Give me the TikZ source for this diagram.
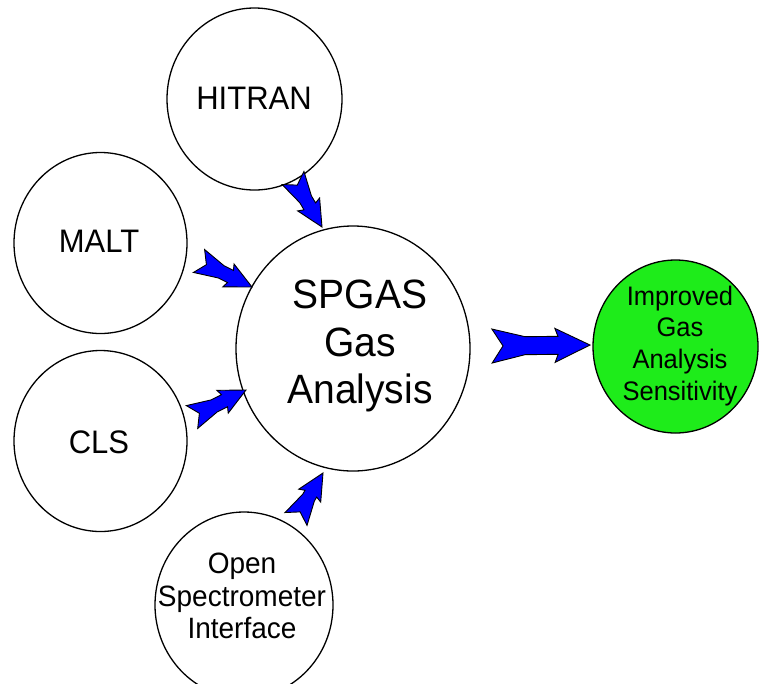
\documentclass[tikz,border=0pt]{standalone}
\usepackage{fontspec}
\setmainfont{Liberation Sans}
\usetikzlibrary{calc,shapes.geometric}
\definecolor{arrowblue}{RGB}{0,0,255}
\definecolor{goodgreen}{RGB}{30,236,26}
\newcommand\tallt[1]{\scalebox{1}[1.05]{#1}}
\tikzset{
  bubble/.style={ellipse, draw=black, line width=1.3pt, inner sep=0pt},
  lbl/.style={anchor=base, inner sep=0pt, text=black},
  fatarrowstyle/.style={fill=arrowblue, draw=black, line width=0.9pt, line join=miter},
}
\newcommand\fatarrow[3]{%
  \pgfmathsetmacro\fahw{17*#3}%
  \pgfmathsetmacro\fasw{9*#3}%
  \pgfmathsetmacro\fant{11*#3}%
  \pgfmathsetmacro\fafl{33*#3}%
  \pgfmathsetmacro\fahb{35*#3}%
  \pgfmathsetmacro\fahj{32*#3}%
  \draw[fatarrowstyle]
       ($(#1)!\fahw pt!90:(#2)$)
    -- ($($(#1)!\fafl pt!(#2)$)!\fasw pt!90:(#2)$)
    -- ($($(#2)!\fahj pt!(#1)$)!\fasw pt!-90:(#1)$)
    -- ($($(#2)!\fahb pt!(#1)$)!\fahw pt!-90:(#1)$)
    -- (#2)
    -- ($($(#2)!\fahb pt!(#1)$)!\fahw pt!90:(#1)$)
    -- ($($(#2)!\fahj pt!(#1)$)!\fasw pt!90:(#1)$)
    -- ($($(#1)!\fafl pt!(#2)$)!\fasw pt!-90:(#2)$)
    -- ($(#1)!\fahw pt!-90:(#2)$)
    -- ($(#1)!\fant pt!(#2)$)
    -- cycle;
}
\begin{document}
\begin{tikzpicture}[x=1pt,y=-1pt]
\useasboundingbox (0,0) rectangle (759,683);
\fill[white] (0,0) rectangle (759,683);

% bubbles
\node[bubble, minimum width=175pt, minimum height=182pt] (hitran) at (254.5,99) {};
\node[bubble, minimum width=173pt, minimum height=181pt] (malt) at (100.5,243) {};
\node[bubble, minimum width=173pt, minimum height=181pt] (cls) at (100.5,441) {};
\node[bubble, minimum width=234pt, minimum height=245pt] (spgas) at (353,348.5) {};
\node[bubble, minimum width=178pt, minimum height=186pt] (osi) at (244,605) {};
\node[bubble, fill=goodgreen, minimum width=165pt, minimum height=173pt] (improved) at (675.5,346.5) {};

% labels
\node[lbl, font=\fontsize{31}{37}\selectfont] (hitran-t) at (254,109) {\tallt{HITRAN}};
\node[lbl, font=\fontsize{31}{37}\selectfont] (malt-t) at (99,252) {\tallt{MALT}};
\node[lbl, font=\fontsize{31}{37}\selectfont] (cls-t) at (99,453) {\tallt{CLS}};

\node[lbl, font=\fontsize{39}{47}\selectfont] (spgas-t1) at (360,308) {\tallt{SPGAS}};
\node[lbl, font=\fontsize{39}{47}\selectfont] (spgas-t2) at (360,356) {\tallt{Gas}};
\node[lbl, font=\fontsize{39}{47}\selectfont] (spgas-t3) at (360,403) {\tallt{Analysis}};

\node[lbl, font=\fontsize{28}{32}\selectfont] (osi-t1) at (242,573) {\tallt{Open}};
\node[lbl, font=\fontsize{28}{32}\selectfont] (osi-t2) at (242,606) {\tallt{Spectrometer}};
\node[lbl, font=\fontsize{28}{32}\selectfont] (osi-t3) at (242,638) {\tallt{Interface}};

\node[lbl, font=\fontsize{25.5}{31}\selectfont] (imp-t1) at (680,305) {\tallt{Improved}};
\node[lbl, font=\fontsize{25.5}{31}\selectfont] (imp-t2) at (680,336) {\tallt{Gas}};
\node[lbl, font=\fontsize{25.5}{31}\selectfont] (imp-t3) at (680,368) {\tallt{Analysis}};
\node[lbl, font=\fontsize{25.5}{31}\selectfont] (imp-t4) at (680,400) {\tallt{Sensitivity}};

% connector end points
\coordinate (hitran-out) at (293,178);
\coordinate (spgas-in-h) at (322,227);
\coordinate (malt-out) at (199,261);
\coordinate (spgas-in-m) at (252,287);
\coordinate (cls-out) at (192,417);
\coordinate (spgas-in-c) at (246,390);
\coordinate (osi-out) at (296,519);
\coordinate (spgas-in-o) at (323,473);
\coordinate (spgas-out) at (492,346);
\coordinate (improved-in) at (590,345);

% fat arrows
\fatarrow{hitran-out}{spgas-in-h}{0.75}
\fatarrow{malt-out}{spgas-in-m}{0.75}
\fatarrow{cls-out}{spgas-in-c}{0.75}
\fatarrow{osi-out}{spgas-in-o}{0.75}
\fatarrow{spgas-out}{improved-in}{1}
\end{tikzpicture}
\end{document}
